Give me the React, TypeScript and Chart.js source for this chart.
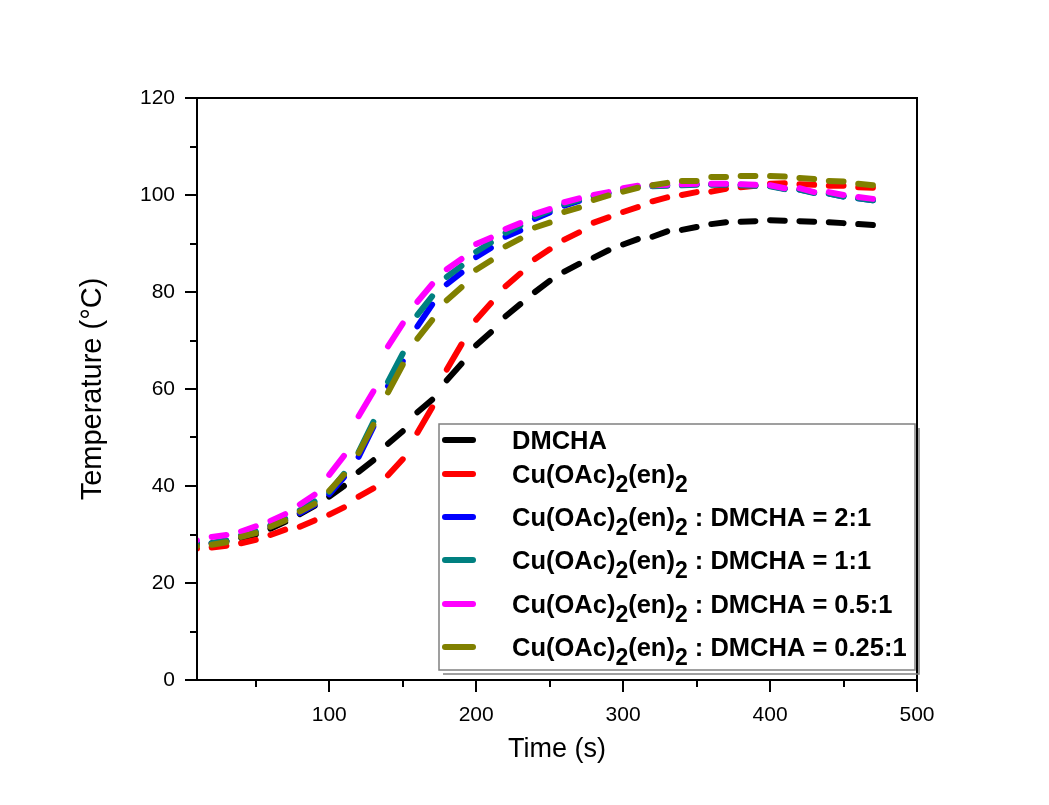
import React, { useEffect, useRef } from "react";
import { Chart, registerables } from "chart.js";

Chart.register(...registerables);

// Time (s), sampled every 10 s
const times = [
  0, 10, 20, 30, 40, 50, 60, 70, 80, 90, 100, 110, 120, 130, 140, 150, 160, 170, 180, 190,
  200, 210, 220, 230, 240, 250, 260, 270, 280, 290, 300, 310, 320, 330, 340, 350, 360, 370,
  380, 390, 400, 410, 420, 430, 440, 450, 460, 470,
];

const dmcha = [
  27.5, 27.9, 28.2, 28.7, 29.3, 30.0, 31.2, 32.6, 34.2, 35.9, 37.8, 40.0, 42.9, 45.3, 48.7, 51.3,
  55.2, 57.8, 61.8, 65.2, 69.0, 71.7, 75.0, 77.5, 80.0, 82.3, 84.2, 85.8, 87.1, 88.6, 89.8, 90.9,
  91.4, 92.5, 92.8, 93.4, 94.0, 94.4, 94.5, 94.6, 94.8, 94.7, 94.6, 94.5, 94.4, 94.2, 94.0, 93.8,
];

const cuEn = [
  26.8, 27.1, 27.3, 27.7, 28.2, 28.9, 29.9, 31.0, 31.6, 32.9, 34.1, 35.6, 37.8, 39.5, 42.2, 45.5,
  51.0, 56.2, 64.0, 69.2, 74.3, 77.7, 81.2, 83.8, 86.8, 88.8, 90.8, 92.3, 94.3, 95.4, 96.5, 97.5,
  98.7, 99.5, 100.0, 100.6, 100.7, 101.3, 101.6, 101.9, 102.3, 102.4, 102.2, 102.1, 101.9, 101.9, 101.6, 101.5,
];

const ratio2to1 = [
  27.9, 28.2, 28.1, 28.6, 29.6, 30.4, 31.7, 33.0, 34.4, 36.1, 38.3, 41.8, 46.0, 52.2, 60.6, 65.7,
  72.9, 77.4, 81.6, 84.0, 87.2, 89.1, 91.4, 92.7, 95.1, 96.4, 97.8, 98.8, 99.7, 100.4, 101.2, 101.7,
  101.9, 102.0, 102.1, 102.2, 102.2, 102.2, 102.1, 102.0, 101.9, 101.3, 101.1, 100.5, 100.3, 99.7, 99.3, 98.9,
];

const ratio1to1 = [
  27.8, 28.2, 28.2, 28.7, 29.8, 30.6, 31.9, 33.3, 35.0, 36.8, 38.8, 42.5, 47.0, 53.2, 61.5, 67.3,
  75.3, 79.1, 83.1, 85.4, 88.3, 90.2, 92.2, 93.7, 95.6, 96.8, 98.1, 99.0, 99.8, 100.4, 101.2, 101.7,
  101.8, 101.9, 102.0, 102.1, 102.1, 102.1, 102.0, 101.9, 101.8, 101.2, 101.1, 100.4, 100.3, 99.7, 99.3, 98.9,
];

const ratio05to1 = [
  28.3, 28.8, 29.5, 29.9, 30.6, 31.7, 32.8, 34.2, 36.2, 38.2, 42.3, 46.2, 54.4, 59.5, 68.8, 73.5,
  78.0, 81.6, 84.7, 86.8, 89.9, 91.2, 93.0, 94.2, 96.1, 97.1, 98.5, 99.3, 100.0, 100.6, 101.4, 101.9,
  102.0, 102.1, 102.2, 102.3, 102.3, 102.3, 102.2, 102.1, 102.0, 101.4, 101.4, 100.6, 100.6, 100.0, 99.6, 99.2,
];

const ratio025to1 = [
  27.3, 27.6, 27.9, 28.4, 29.5, 30.3, 31.6, 32.9, 34.7, 36.3, 39.0, 42.3, 46.8, 52.6, 59.3, 65.0,
  70.4, 74.2, 78.3, 81.0, 84.6, 86.5, 89.4, 91.0, 93.3, 94.3, 96.5, 97.4, 99.0, 99.9, 100.7, 101.5,
  102.0, 102.5, 102.9, 102.9, 103.7, 103.7, 103.9, 103.9, 103.9, 103.8, 103.5, 103.3, 102.9, 102.8, 102.3, 102.0,
];

// Legend labels; "_2" marks a subscript 2
const seriesLabels = [
  "DMCHA",
  "Cu(OAc)_2(en)_2",
  "Cu(OAc)_2(en)_2 : DMCHA = 2:1",
  "Cu(OAc)_2(en)_2 : DMCHA = 1:1",
  "Cu(OAc)_2(en)_2 : DMCHA = 0.5:1",
  "Cu(OAc)_2(en)_2 : DMCHA = 0.25:1",
];
const seriesColors = ["#000000", "#FF0000", "#0000FF", "#008080", "#FF00FF", "#808000"];
const seriesValues = [dmcha, cuEn, ratio2to1, ratio1to1, ratio05to1, ratio025to1];

const xMajorTicks = [100, 200, 300, 400, 500];
const xMinorTicks = [50, 150, 250, 350, 450];
const yMajorTicks = [0, 20, 40, 60, 80, 100, 120];
const yMinorTicks = [10, 30, 50, 70, 90, 110];

const xTitle = "Time (s)";
const yTitle = "Temperature (°C)";

const FONT = "Arial, 'Liberation Sans', sans-serif";

function parseLabel(s: string) {
  const parts: { text: string; sub: boolean }[] = [];
  const re = /_(\d)/g;
  let last = 0;
  let m: RegExpExecArray | null;
  while ((m = re.exec(s)) !== null) {
    if (m.index > last) parts.push({ text: s.slice(last, m.index), sub: false });
    parts.push({ text: m[1], sub: true });
    last = m.index + m[0].length;
  }
  if (last < s.length) parts.push({ text: s.slice(last), sub: false });
  return parts;
}

const framePlugin = {
  id: "frameAndExtras",
  beforeDraw(chart: any) {
    const ctx = chart.ctx;
    ctx.save();
    ctx.fillStyle = "#ffffff";
    ctx.fillRect(0, 0, chart.width, chart.height);
    ctx.restore();
  },
  afterDraw(chart: any) {
    const ctx = chart.ctx;
    const { left, right, top, bottom } = chart.chartArea;
    const xs = chart.scales.x;
    const ys = chart.scales.y;
    ctx.save();
    ctx.strokeStyle = "#000";
    ctx.lineWidth = 2;
    ctx.lineCap = "butt";
    ctx.strokeRect(left, top, right - left, bottom - top);
    ctx.beginPath();
    xMajorTicks.forEach((v) => {
      const p = Math.round(xs.getPixelForValue(v));
      ctx.moveTo(p, bottom);
      ctx.lineTo(p, bottom + 12);
    });
    xMinorTicks.forEach((v) => {
      const p = Math.round(xs.getPixelForValue(v));
      ctx.moveTo(p, bottom);
      ctx.lineTo(p, bottom + 7);
    });
    yMajorTicks.forEach((v) => {
      const p = Math.round(ys.getPixelForValue(v));
      ctx.moveTo(left, p);
      ctx.lineTo(left - 12, p);
    });
    yMinorTicks.forEach((v) => {
      const p = Math.round(ys.getPixelForValue(v));
      ctx.moveTo(left, p);
      ctx.lineTo(left - 7, p);
    });
    ctx.stroke();

    // axis titles
    ctx.fillStyle = "#000";
    ctx.textAlign = "center";
    ctx.textBaseline = "middle";
    ctx.font = `27px ${FONT}`;
    ctx.fillText(xTitle, (left + right) / 2, bottom + 70);
    ctx.save();
    ctx.font = `29px ${FONT}`;
    ctx.translate(left - 104, (top + bottom) / 2);
    ctx.rotate(-Math.PI / 2);
    ctx.fillText(yTitle, 0, 0);
    ctx.restore();

    // legend
    const bx = left + 242;
    const by = top + 326;
    const bw = right - 2 - bx;
    const bh = bottom - 10 - by;
    ctx.fillStyle = "#ffffff";
    ctx.fillRect(bx, by, bw, bh);
    ctx.strokeStyle = "#808080";
    ctx.lineWidth = 1.5;
    ctx.strokeRect(bx, by, bw, bh);
    ctx.beginPath();
    ctx.moveTo(bx + 4, by + bh + 4);
    ctx.lineTo(bx + bw + 4, by + bh + 4);
    ctx.lineTo(bx + bw + 4, by + 4);
    ctx.stroke();

    const baselines = [25, 59, 102, 145, 189, 232];
    seriesLabels.forEach((lab, i) => {
      const yb = by + baselines[i];
      const ly = yb - 9;
      ctx.strokeStyle = seriesColors[i];
      ctx.lineWidth = 6;
      ctx.lineCap = "round";
      ctx.beginPath();
      ctx.moveTo(bx + 6, ly);
      ctx.lineTo(bx + 34, ly);
      ctx.stroke();
      let x = bx + 73;
      ctx.fillStyle = "#000";
      ctx.textAlign = "left";
      ctx.textBaseline = "alphabetic";
      parseLabel(lab).forEach((part) => {
        if (part.sub) {
          ctx.font = `bold 23px ${FONT}`;
          ctx.fillText(part.text, x, yb + 9);
        } else {
          ctx.font = `bold 25.5px ${FONT}`;
          ctx.fillText(part.text, x, yb);
        }
        x += ctx.measureText(part.text).width;
      });
    });
    ctx.restore();
  },
};

export default function App() {
  const canvasRef = useRef<HTMLCanvasElement | null>(null);

  useEffect(() => {
    const canvas = canvasRef.current;
    if (!canvas) return;
    const datasets = seriesLabels.map((lab, i) => ({
      label: lab.replace(/_/g, ""),
      data: times.map((t, k) => ({ x: t, y: seriesValues[i][k] })),
      borderColor: seriesColors[i],
      backgroundColor: seriesColors[i],
      borderWidth: 6,
      borderCapStyle: "round" as const,
      borderJoinStyle: "round" as const,
      pointRadius: 0,
      tension: 0,
      clip: 0,
      order: seriesLabels.length - i,
      segment: {
        borderColor: (c: any) => (c.p0DataIndex % 2 === 0 ? seriesColors[i] : "rgba(0,0,0,0)"),
      },
    }));

    const chart = new Chart(canvas, {
      type: "line",
      data: { datasets },
      options: {
        animation: false,
        responsive: false,
        devicePixelRatio: 1,
        layout: { padding: { top: 98, right: 132, left: 0, bottom: 0 } },
        plugins: { legend: { display: false }, tooltip: { enabled: false } },
        scales: {
          x: {
            type: "linear",
            min: 10,
            max: 500,
            afterBuildTicks: (s: any) => {
              s.ticks = xMajorTicks.map((v) => ({ value: v }));
            },
            afterFit: (s: any) => {
              s.height = 125;
            },
            grid: { display: false },
            border: { display: false },
            ticks: {
              color: "#000",
              font: { family: FONT, size: 21 },
              padding: 15,
              maxRotation: 0,
              autoSkip: false,
              callback: (v: any) => String(v),
            },
          },
          y: {
            type: "linear",
            min: 0,
            max: 120,
            afterBuildTicks: (s: any) => {
              s.ticks = yMajorTicks.map((v) => ({ value: v }));
            },
            afterFit: (s: any) => {
              s.width = 197;
            },
            grid: { display: false },
            border: { display: false },
            ticks: {
              color: "#000",
              font: { family: FONT, size: 21 },
              padding: 14,
              autoSkip: false,
              callback: (v: any) => String(v),
            },
          },
        },
      },
      plugins: [framePlugin],
    });
    return () => chart.destroy();
  }, []);

  return (
    <div style={{ position: "absolute", left: 0, top: 0, width: 1049, height: 805, background: "#fff" }}>
      <canvas ref={canvasRef} width={1049} height={805} style={{ display: "block" }} />
    </div>
  );
}
